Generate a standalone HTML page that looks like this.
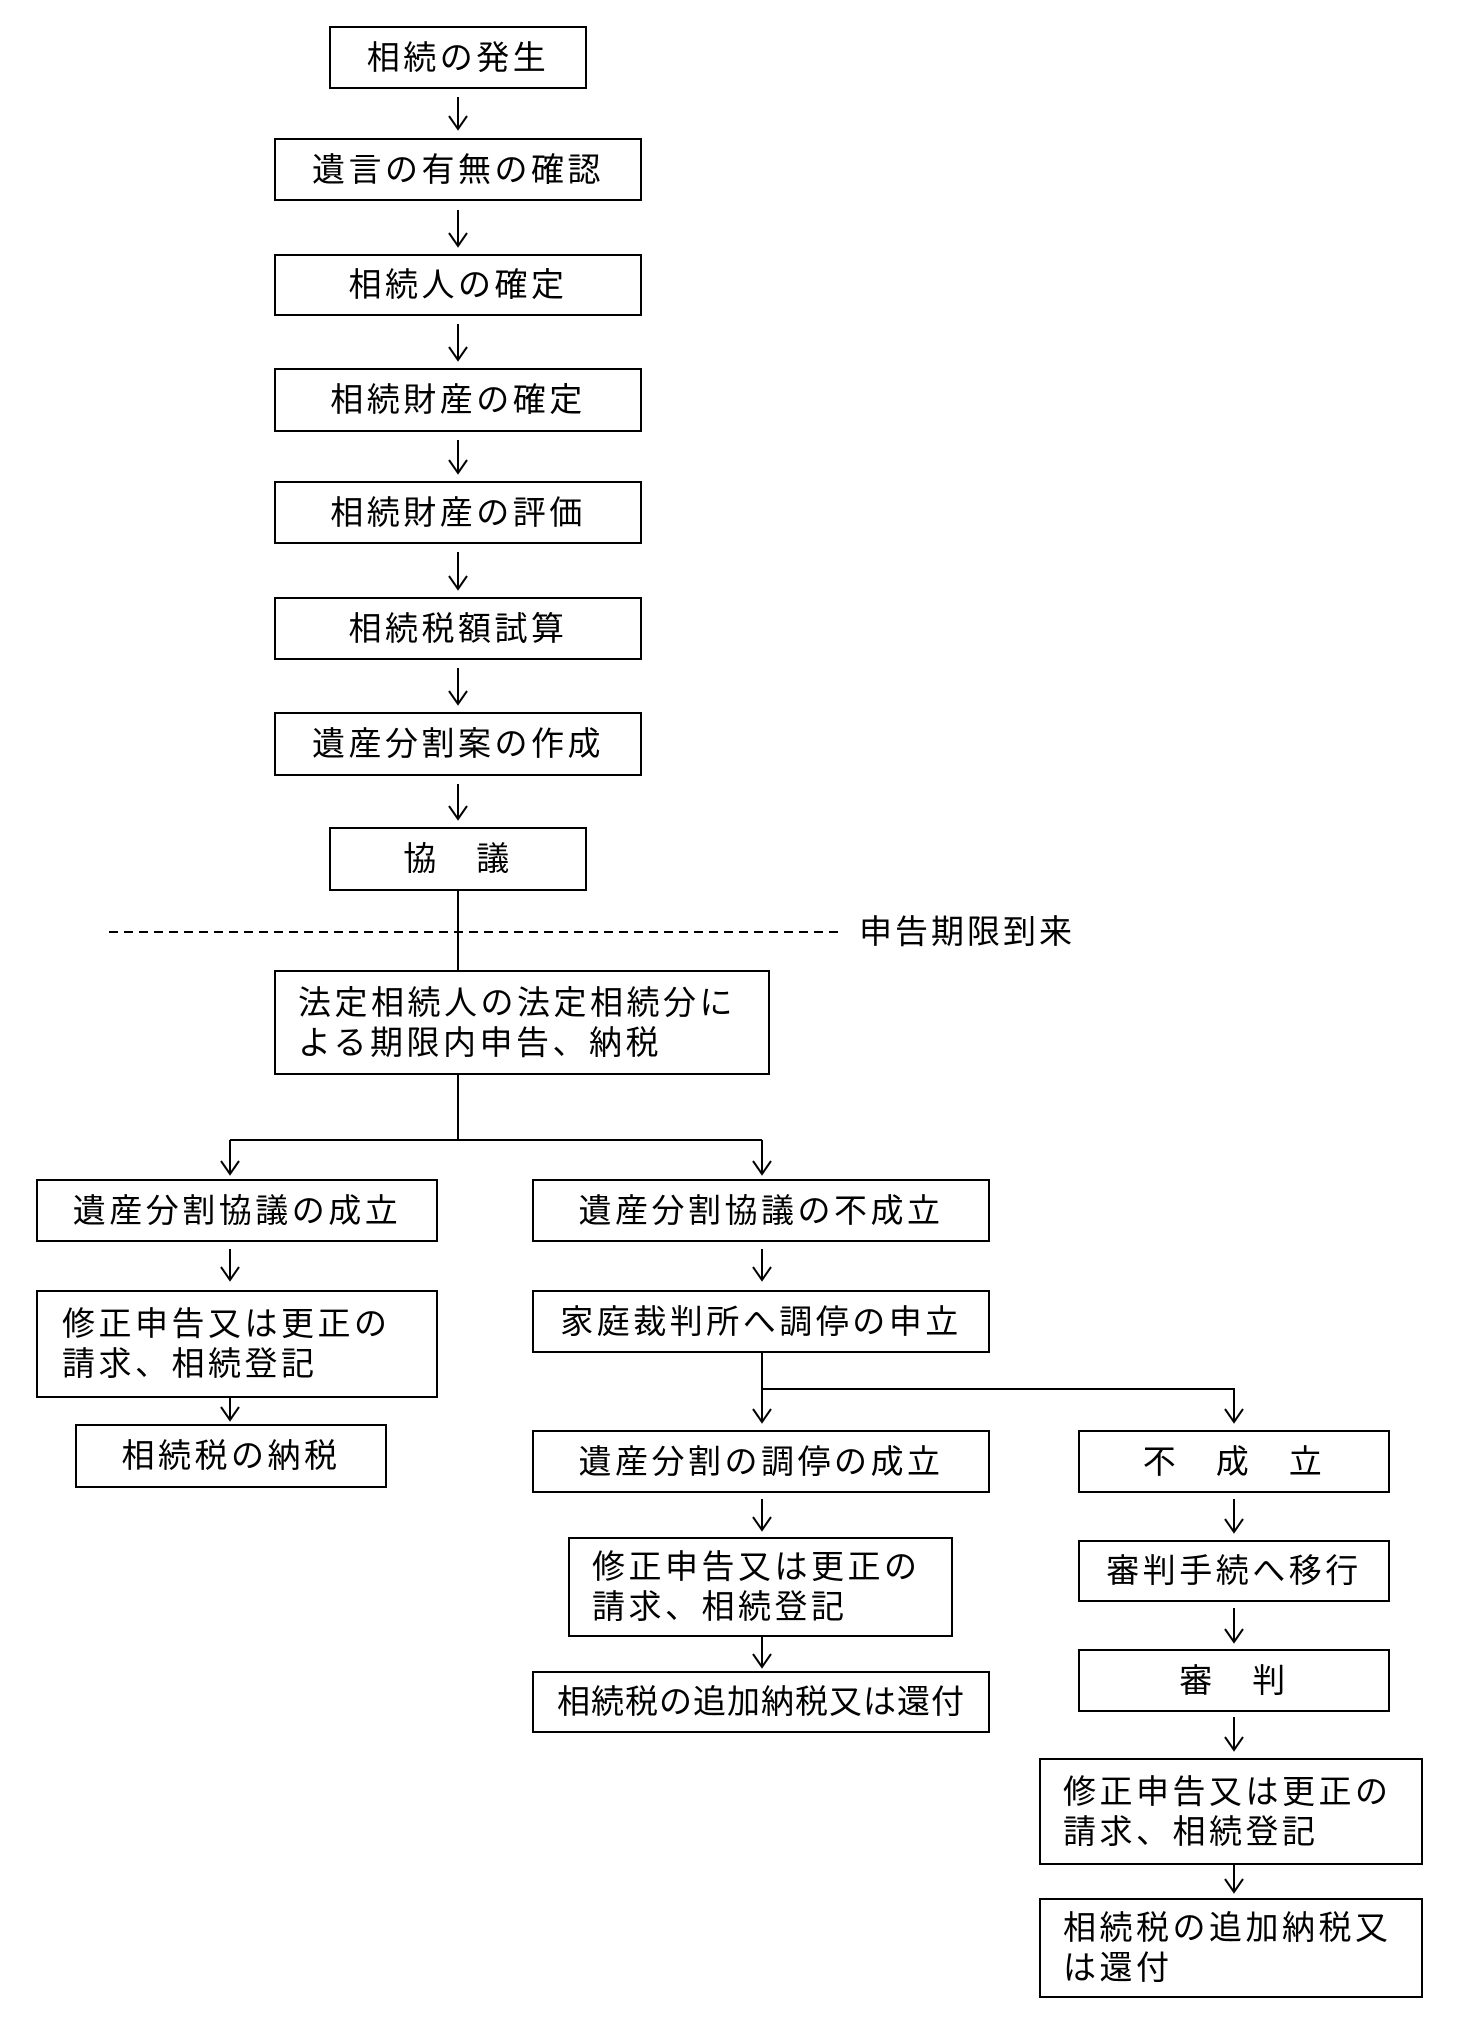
<!DOCTYPE html>
<html><head><meta charset="utf-8"><style>
body{margin:0;background:#fff;}
#c{position:relative;width:1464px;height:2026px;overflow:hidden;background:#fff;font-family:"Liberation Sans","Noto Sans CJK JP",sans-serif;}
.b{position:absolute;box-sizing:border-box;border:2px solid #000;display:flex;align-items:center;justify-content:center;font-size:33px;letter-spacing:3.5px;color:#000;line-height:40px;white-space:nowrap;}
.l{justify-content:flex-start;padding-left:22px;}
svg{position:absolute;left:0;top:0;}
</style></head><body><div id="c">
<svg width="1464" height="2026" fill="none" stroke="#000" stroke-width="2">
<g id="arrows">
<path d="M458 97V129M449 116L458 129L467 116"/>
<path d="M458 210V246M449 233L458 246L467 233"/>
<path d="M458 324V360M449 347L458 360L467 347"/>
<path d="M458 440V473M449 460L458 473L467 460"/>
<path d="M458 552V589M449 576L458 589L467 576"/>
<path d="M458 668V704M449 691L458 704L467 691"/>
<path d="M458 784V819M449 806L458 819L467 806"/>
<path d="M458 891V970"/>
<path d="M458 1075V1140M230 1140H762"/>
<path d="M230 1140V1174M221 1161L230 1174L239 1161"/>
<path d="M762 1140V1174M753 1161L762 1174L771 1161"/>
<path d="M230 1249V1280M221 1267L230 1280L239 1267"/>
<path d="M230 1398V1420M221 1407L230 1420L239 1407"/>
<path d="M762 1249V1280M753 1267L762 1280L771 1267"/>
<path d="M762 1353V1422M753 1409L762 1422L771 1409M762 1389H1234V1422M1225 1409L1234 1422L1243 1409"/>
<path d="M762 1499V1530M753 1517L762 1530L771 1517"/>
<path d="M762 1637V1667M753 1654L762 1667L771 1654"/>
<path d="M1234 1499V1532M1225 1519L1234 1532L1243 1519"/>
<path d="M1234 1608V1642M1225 1629L1234 1642L1243 1629"/>
<path d="M1234 1717V1750M1225 1737L1234 1750L1243 1737"/>
<path d="M1234 1865V1892M1225 1879L1234 1892L1243 1879"/>
</g>
<path d="M109 932H839" stroke-dasharray="9 6"/>
</svg>
<div class="b" style="left:329px;top:26px;width:258px;height:63px">相続の発生</div>
<div class="b" style="left:274px;top:138px;width:368px;height:63px">遺言の有無の確認</div>
<div class="b" style="left:274px;top:254px;width:368px;height:62px">相続人の確定</div>
<div class="b" style="left:274px;top:368px;width:368px;height:64px">相続財産の確定</div>
<div class="b" style="left:274px;top:481px;width:368px;height:63px">相続財産の評価</div>
<div class="b" style="left:274px;top:597px;width:368px;height:63px">相続税額試算</div>
<div class="b" style="left:274px;top:712px;width:368px;height:64px">遺産分割案の作成</div>
<div class="b" style="left:329px;top:827px;width:258px;height:64px">協&emsp;議</div>
<div style="position:absolute;left:859px;top:912px;font-size:33px;letter-spacing:3px;line-height:40px">申告期限到来</div>
<div class="b l" style="left:274px;top:970px;width:496px;height:105px">法定相続人の法定相続分に<br>よる期限内申告、納税</div>
<div class="b" style="left:36px;top:1179px;width:402px;height:63px">遺産分割協議の成立</div>
<div class="b l" style="left:36px;top:1290px;width:402px;height:108px;padding-left:24px">修正申告又は更正の<br>請求、相続登記</div>
<div class="b" style="left:75px;top:1424px;width:312px;height:64px">相続税の納税</div>
<div class="b" style="left:532px;top:1179px;width:458px;height:63px">遺産分割協議の不成立</div>
<div class="b" style="left:532px;top:1290px;width:458px;height:63px">家庭裁判所へ調停の申立</div>
<div class="b" style="left:532px;top:1430px;width:458px;height:63px">遺産分割の調停の成立</div>
<div class="b l" style="left:568px;top:1537px;width:385px;height:100px">修正申告又は更正の<br>請求、相続登記</div>
<div class="b" style="left:532px;top:1671px;width:458px;height:62px;letter-spacing:1px">相続税の追加納税又は還付</div>
<div class="b" style="left:1078px;top:1430px;width:312px;height:63px">不&emsp;成&emsp;立</div>
<div class="b" style="left:1078px;top:1540px;width:312px;height:62px">審判手続へ移行</div>
<div class="b" style="left:1078px;top:1649px;width:312px;height:63px">審&emsp;判</div>
<div class="b l" style="left:1039px;top:1758px;width:384px;height:107px">修正申告又は更正の<br>請求、相続登記</div>
<div class="b l" style="left:1039px;top:1898px;width:384px;height:100px">相続税の追加納税又<br>は還付</div>
</div></body></html>
